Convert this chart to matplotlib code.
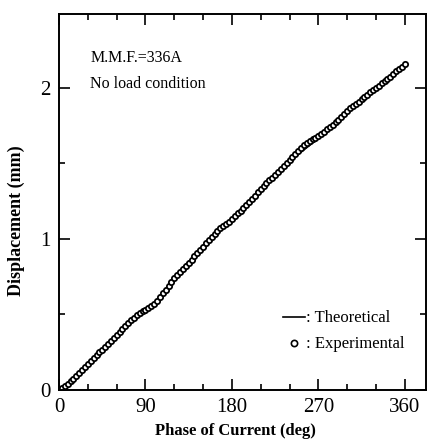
import matplotlib.pyplot as plt
from matplotlib.ticker import MultipleLocator
from matplotlib.lines import Line2D

OUTPUT_PATH = "out.png"

# theoretical curve (phase in deg, displacement in mm)
theory_phase = [0, 10, 20, 30, 40, 50, 60, 70, 80, 90, 100, 110, 120, 130, 140,
                150, 160, 170, 180, 190, 200, 210, 220, 230, 240, 250, 260, 270,
                280, 290, 300, 310, 320, 330, 340, 350, 360]
theory_disp = [0.0, 0.04, 0.10, 0.17, 0.235, 0.30, 0.365, 0.43, 0.49, 0.53, 0.58,
               0.66, 0.74, 0.82, 0.88, 0.95, 1.02, 1.08, 1.13, 1.19, 1.25, 1.33,
               1.39, 1.455, 1.51, 1.565, 1.615, 1.665, 1.725, 1.79, 1.85, 1.90,
               1.95, 2.00, 2.05, 2.10, 2.16]

# experimental points, every 3 deg
exp_phase = list(range(0, 361, 3))
exp_disp = [
    0.00, 0.01, 0.025, 0.04, 0.06, 0.075, 0.09, 0.11, 0.13, 0.15,
    0.17, 0.19, 0.21, 0.23, 0.25, 0.265, 0.285, 0.305, 0.325, 0.345,
    0.365, 0.385, 0.405, 0.425, 0.445, 0.465, 0.48, 0.495, 0.51, 0.52,
    0.53, 0.545, 0.555, 0.57, 0.59, 0.615, 0.64, 0.665, 0.69, 0.715,
    0.74, 0.76, 0.78, 0.80, 0.82, 0.84, 0.86, 0.885, 0.905, 0.93,
    0.95, 0.975, 0.995, 1.015, 1.035, 1.05, 1.07, 1.085, 1.10, 1.115,
    1.13, 1.15, 1.17, 1.185, 1.205, 1.225, 1.245, 1.265, 1.285, 1.31,
    1.33, 1.35, 1.37, 1.39, 1.405, 1.425, 1.445, 1.465, 1.485, 1.50,
    1.52, 1.54, 1.56, 1.58, 1.60, 1.62, 1.635, 1.65, 1.66, 1.67,
    1.68, 1.695, 1.71, 1.725, 1.74, 1.755, 1.775, 1.79, 1.81, 1.83,
    1.85, 1.865, 1.88, 1.895, 1.91, 1.925, 1.94, 1.955, 1.97, 1.985,
    2.00, 2.015, 2.03, 2.045, 2.06, 2.075, 2.09, 2.11, 2.125, 2.14,
    2.16,
]

x_ticks = [0, 90, 180, 270, 360]
y_ticks = [0, 1, 2]


def main():
    plt.rcParams["font.family"] = ["Liberation Serif", "DejaVu Serif"]

    fig = plt.figure(figsize=(4.28, 4.44), dpi=100)
    ax = fig.add_axes([0.138, 0.1216, 0.857, 0.847])

    ax.plot(theory_phase, theory_disp, color="black", lw=1.2)
    ax.plot(exp_phase, exp_disp, "o", ms=3.8, mfc="white", mec="black", mew=1.3)

    ax.set_xlim(0, 382)
    ax.set_ylim(0, 2.49)
    ax.set_xticks(x_ticks)
    ax.set_yticks(y_ticks)
    ax.xaxis.set_minor_locator(MultipleLocator(30))
    ax.yaxis.set_minor_locator(MultipleLocator(0.5))
    ax.tick_params(which="both", direction="in", top=True, right=True,
                   width=1.2, labelsize=15)
    ax.tick_params(which="major", length=8)
    ax.tick_params(axis="x", which="major", pad=6)
    ax.tick_params(axis="y", which="major", pad=6)
    ax.tick_params(which="minor", length=4)
    for s in ax.spines.values():
        s.set_linewidth(1.4)

    ax.set_xlabel("Phase of Current (deg)", fontsize=12, fontweight="bold")
    ax.xaxis.set_label_coords(0.48, -0.088)
    ax.set_ylabel("Displacement (mm)", fontsize=13, fontweight="bold")
    ax.yaxis.set_label_coords(-0.093, 0.45)

    ax.text(0.085, 0.883, "M.M.F.=336A", transform=ax.transAxes, fontsize=11.5, va="center")
    ax.text(0.085, 0.813, "No load condition", transform=ax.transAxes, fontsize=11.5, va="center")

    handles = [
        Line2D([], [], color="black", lw=1.2),
        Line2D([], [], ls="none", marker="o", ms=4.5, mfc="white", mec="black", mew=1.2),
    ]
    ax.legend(handles, [": Theoretical", ": Experimental"], loc="lower right",
              bbox_to_anchor=(0.984, 0.06), frameon=False, fontsize=12,
              handlelength=1.3, handletextpad=0.1, labelspacing=0.6)

    plt.savefig(OUTPUT_PATH, dpi=100)
    plt.close()


if __name__ == "__main__":
    main()
